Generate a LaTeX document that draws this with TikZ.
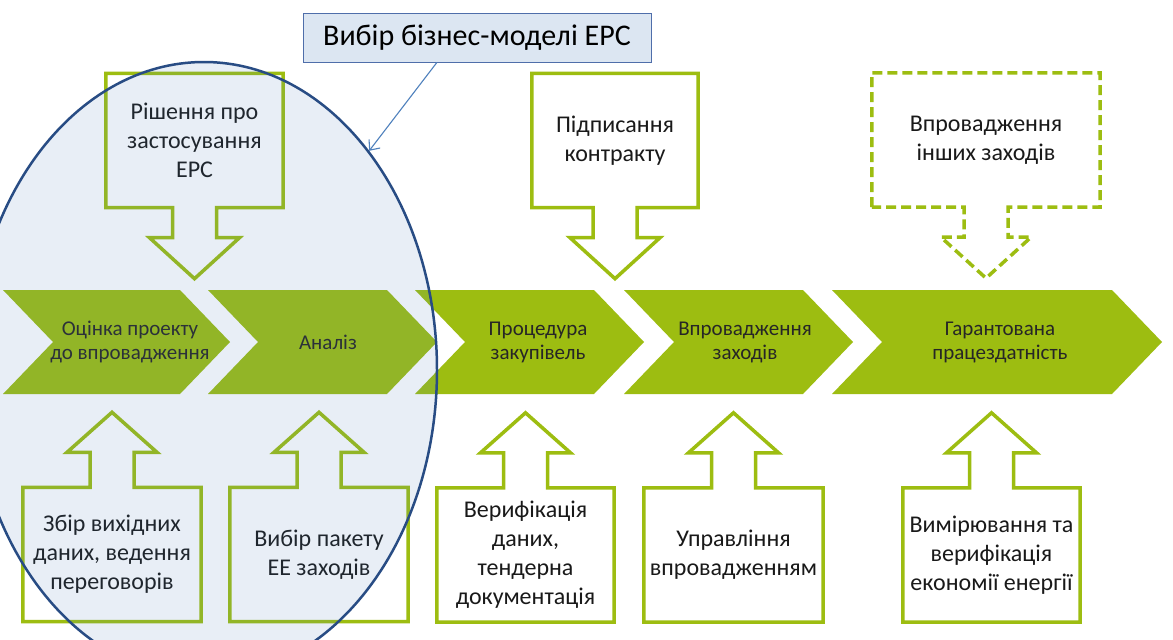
\documentclass[tikz,border=0pt]{standalone}
\usepackage{fontspec}
\setmainfont{Carlito}
\usepackage{tikz}
\usetikzlibrary{shapes.geometric, arrows.meta, calc}
\definecolor{stagegreen}{RGB}{157,189,17}
\definecolor{focusfill}{RGB}{79,129,189}
\definecolor{focusline}{RGB}{40,76,132}
\definecolor{notefill}{RGB}{220,230,242}
\definecolor{noteline}{RGB}{79,110,170}

% outline of a box with its arrow pointing down / up
\newcommand{\boxarrowdown}[2][]{%
  \draw[calloutline,#1] (#2.south west) -- (#2.north west) -- (#2.north east) -- (#2.south east)
    -- ($(#2.south)+(22,0)$) -- ++(0,30) -- ++(23,0) -- ($(#2.south)+(0,71)$)
    -- ($(#2.south)+(-45,30)$) -- ++(23,0) -- ++(0,-30) -- cycle;}
\newcommand{\boxarrowup}[1]{%
  \draw[calloutline] (#1.north west) -- (#1.south west) -- (#1.south east) -- (#1.north east)
    -- ($(#1.north)+(22,0)$) -- ++(0,-35) -- ++(23,0) -- ($(#1.north)+(0,-75)$)
    -- ($(#1.north)+(-45,-35)$) -- ++(23,0) -- ++(0,35) -- cycle;}

\begin{document}
\begin{tikzpicture}[
  x=1pt, y=-1pt,
  stagetext/.style={
    align=center, inner sep=0pt, text=black!85,
    font=\fontsize{21}{24}\selectfont
  },
  callbox/.style={
    align=center, inner sep=0pt, text=black!90,
    minimum width=#1, minimum height=134pt,
    font=\fontsize{24}{29}\selectfont
  },
  calloutline/.style={draw=stagegreen, line width=3.5pt, line join=miter},
  notebox/.style={
    rectangle, draw=noteline, fill=notefill, line width=1pt,
    minimum width=348pt, minimum height=49pt, inner sep=0pt,
    font=\fontsize{30}{36}\selectfont
  },
  pointer/.style={-{Straight Barb[length=8pt, width=14pt]}, line width=1.1pt, draw=focusfill}
]
\useasboundingbox (0,0) rectangle (1173,640);
\clip (0,0) rectangle (1173,640);
\fill[white] (0,0) rectangle (1173,640);

% process chevrons
\foreach \L/\R/\tx/\nm/\lbl in {
  3/180/130/assess/{Оцінка проекту\\до впровадження},
  208/387/328/analysis/{Аналіз},
  415/594/538/procure/{Процедура\\закупівель},
  624/803/745/deploy/{Впровадження\\заходів},
  832/1112/1000/guarantee/{Гарантована\\працездатність}}
{
  \fill[stagegreen] (\L,290) -- (\R,290) -- ++(50,52) -- (\R,394) -- (\L,394) -- ++(50,-52) -- cycle;
  \node[stagetext] (\nm) at (\tx,342) {\lbl};
}

% inputs from above
\node[callbox=177pt] (decision) at (194.5,140.5) {Рішення про\\застосування\\ЕРС};
\node[callbox=166pt] (contract) at (615,140.5) {Підписання\\контракту};
\node[callbox=228pt] (othermeas) at (986,140) {Впровадження\\інших заходів};
\boxarrowdown{decision}
\boxarrowdown{contract}
\boxarrowdown[dash pattern=on 10pt off 5pt]{othermeas}

% inputs from below
\node[callbox=178pt] (gather) at (112,554.5) {Збір вихідних\\даних, ведення\\переговорів};
\node[callbox=178pt] (package) at (319,554.5) {Вибір пакету\\ЕЕ заходів};
\node[callbox=177pt] (verify) at (525.5,555) {Верифікація\\даних,\\тендерна\\документація};
\node[callbox=179pt] (manage) at (733.5,555) {Управління\\впровадженням};
\node[callbox=177pt] (measure) at (991.5,555) {Вимірювання та\\верифікація\\економії енергії};
\foreach \b in {gather, package, verify, manage, measure}{
  \boxarrowup{\b}
}

% business model selection
\node[ellipse, draw=focusline, line width=2.5pt, fill=focusfill, fill opacity=0.13,
  minimum width=466pt, minimum height=616pt, inner sep=0pt] (focus) at (204,370) {};
\node[notebox] (title) at (477,37.5) {Вибір бізнес-моделі ЕРС};
\draw[pointer] ($(title.south west)!0.385!(title.south east)$) -- (focus.53);

\end{tikzpicture}
\end{document}
